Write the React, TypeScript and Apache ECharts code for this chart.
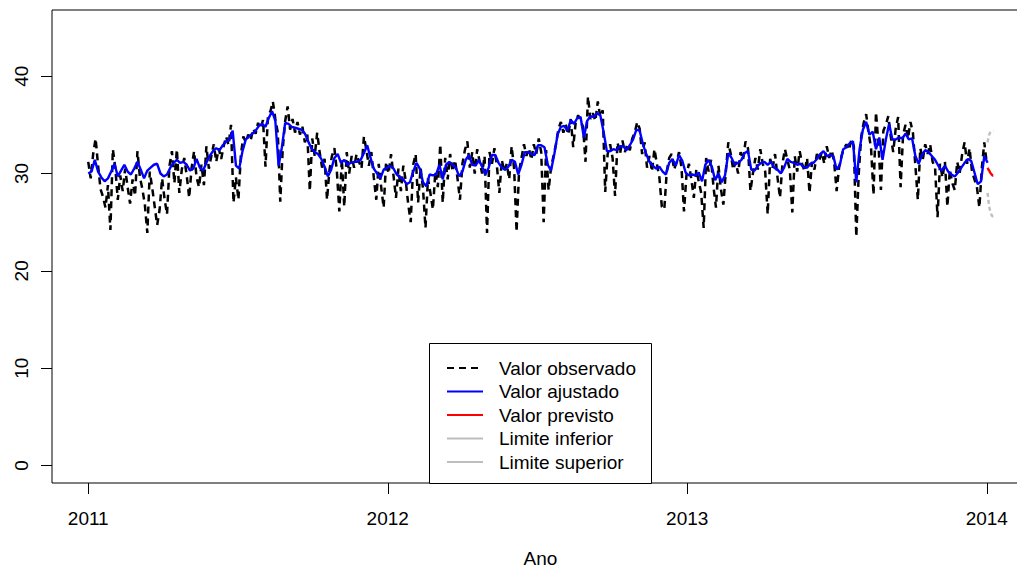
import React, { useEffect, useRef } from "react";
import * as echarts from "echarts";

const FONT = "'Liberation Sans', Arial, Helvetica, sans-serif";

const START_YEAR = 2011;
const DAYS_PER_YEAR = 365;
const OBS_STEP_DAYS = 3;
const FIT_STEP_DAYS = 4;
const FORECAST_START_DAY = 1096;

const xTicks = [2011, 2012, 2013, 2014];
const yTicks = [0, 10, 20, 30, 40];
const xAxisTitle = "Ano";

// Valor observado (every 3 days from 2011-01-01)
const observed = [
  31.2, 29.5, 32.0, 33.6, 30.8, 28.4, 27.6, 26.5, 28.8, 24.2,
  32.5, 30.6, 27.3, 29.8, 28.2, 30.5, 28.6, 26.9, 29.4, 27.7,
  32.3, 29.6, 28.4, 26.8, 23.9, 30.2, 28.5, 26.6, 24.7, 26.3,
  29.5, 27.4, 25.8, 30.8, 32.3, 29.0, 32.5, 28.0, 30.4, 31.6,
  29.8, 27.5, 30.6, 32.3, 29.6, 28.6, 30.9, 28.8, 32.8, 30.5,
  31.8, 33.0, 31.2, 32.6, 31.5, 32.8, 33.8, 32.9, 35.0, 27.0,
  29.6, 27.3, 31.9, 33.8, 33.2, 34.0, 33.4, 34.6, 34.1, 35.2,
  34.6, 35.5, 30.7, 35.9, 36.4, 37.4, 35.6, 34.2, 27.1, 32.5,
  35.4, 36.9, 34.5, 35.6, 34.2, 35.3, 34.0, 34.8, 33.2, 34.0,
  28.2, 33.6, 31.8, 34.2, 32.2, 30.6, 31.5, 27.3, 30.4, 31.8,
  32.6, 30.2, 26.1, 31.5, 26.6, 32.2, 30.0, 31.8, 30.6, 32.0,
  31.2, 30.5, 33.8, 32.4, 30.8, 32.2, 29.6, 27.3, 31.0, 28.6,
  26.5, 31.2, 30.0, 32.0, 29.8, 27.5, 30.5, 28.2, 30.8, 29.2,
  26.8, 25.0, 30.9, 32.0, 27.0, 30.6, 28.4, 24.4, 29.5, 28.0,
  26.3, 30.2, 28.6, 33.0, 27.0, 31.6, 29.4, 32.0, 30.2, 31.4,
  29.5, 27.3, 31.0, 32.4, 33.3, 30.6, 32.2, 30.0, 32.5, 31.2,
  30.0, 31.8, 23.9, 32.2, 31.0, 32.6, 30.8, 28.0, 31.4, 30.2,
  31.0, 29.4, 32.8, 30.5, 24.0, 30.2, 31.6, 33.0, 31.8, 32.6,
  31.4, 33.0, 32.0, 33.6, 32.2, 25.0, 32.4, 28.3, 30.6, 31.8,
  33.0, 34.6, 35.3, 34.2, 35.0, 34.0, 35.6, 32.7, 35.2, 36.0,
  35.4, 34.8, 31.2, 37.9, 35.6, 36.2, 35.4, 37.4, 35.8, 36.5,
  28.1, 32.0, 33.0, 31.6, 27.7, 33.2, 32.0, 33.4, 32.2, 33.0,
  32.4, 33.6, 34.2, 35.3, 34.6, 32.0, 33.2, 30.6, 31.8, 30.2,
  32.5, 31.0, 29.6, 26.6, 26.3, 30.2, 31.6, 32.0, 30.4, 31.2,
  32.2, 30.6, 26.1, 29.8, 31.0, 29.4, 27.5, 30.4, 29.2, 28.0,
  24.4, 31.6, 30.2, 31.4, 28.6, 26.5, 30.8, 28.4, 26.8, 30.2,
  33.2, 32.0, 30.4, 31.2, 30.0, 32.2, 31.4, 33.3, 32.6, 28.2,
  30.0, 31.6, 30.4, 32.5, 31.0, 30.2, 25.8, 31.5, 30.6, 32.0,
  29.6, 27.5, 31.0, 32.5, 31.4, 30.4, 26.0, 31.8, 30.2, 32.3,
  31.0, 30.2, 31.6, 28.0, 31.2, 30.4, 32.0, 31.4, 32.2, 31.0,
  32.8, 31.6, 32.4, 31.2, 28.2, 30.6, 31.8, 32.6, 33.0, 32.4,
  33.5, 32.8, 23.5, 30.0, 33.8, 35.2, 36.1, 34.2, 32.6, 27.8,
  36.3, 33.0, 28.3, 34.4, 35.0, 35.9, 33.8, 32.2, 34.6, 35.8,
  28.6, 34.0, 35.0, 33.6, 35.3, 34.2, 30.8, 27.3, 32.6, 31.4,
  33.0, 32.0, 33.0, 31.2, 30.6, 25.5, 31.0, 29.6, 31.2, 26.6,
  30.4, 29.0, 28.3, 31.2, 30.0, 32.0, 33.2, 31.0, 32.6, 30.2,
  29.4, 28.6, 26.5, 30.6, 33.2, 31.0,
];

// Valor ajustado (every 4 days from 2011-01-01)
const fitted = [
  30.0, 30.2, 31.4, 30.2, 29.6, 29.2, 29.5, 30.2, 31.0, 29.7,
  30.3, 30.9, 30.2, 29.9, 30.5, 31.2, 30.4, 29.5, 30.3, 30.6,
  30.9, 31.0, 30.0, 29.7, 29.9, 30.6, 31.1, 31.4, 31.1, 31.2,
  30.9, 30.3, 30.5, 31.5, 30.6, 30.3, 31.1, 31.8, 32.3, 32.6,
  32.4, 32.9, 33.3, 33.5, 34.4, 30.8, 30.5, 32.3, 33.5, 33.8,
  34.1, 34.4, 34.9, 35.1, 34.8, 35.7, 36.4, 35.4, 30.8, 32.7,
  35.2, 35.1, 34.8, 34.7, 34.6, 34.5, 34.1, 33.3, 32.6, 32.2,
  32.0, 31.5, 30.7, 29.7, 30.4, 31.6, 32.0, 31.1, 31.4, 30.9,
  31.1, 31.2, 31.2, 31.4, 32.1, 32.9, 31.6, 30.5, 30.0, 29.5,
  30.4, 30.6, 30.8, 30.5, 29.9, 29.6, 29.4, 28.9, 29.1, 30.2,
  31.1, 30.5, 29.1, 28.7, 29.9, 29.8, 29.9, 30.9, 29.4, 30.9,
  31.2, 30.9, 30.6, 29.7, 30.2, 31.4, 31.9, 30.9, 30.8, 31.4,
  30.7, 29.9, 30.6, 31.9, 31.9, 31.1, 30.6, 30.4, 30.7, 31.4,
  31.2, 29.9, 30.9, 32.2, 32.2, 32.0, 31.9, 32.9, 32.9, 32.7,
  30.9, 30.3, 32.0, 34.0, 34.8, 34.9, 34.4, 35.5, 35.1, 35.7,
  35.8, 33.7, 35.4, 35.9, 35.8, 36.2, 36.0, 34.3, 32.3, 32.3,
  32.5, 32.4, 32.8, 32.8, 32.4, 32.9, 33.5, 34.5, 34.4, 33.0,
  32.0, 31.2, 30.8, 30.5, 30.7, 30.2, 29.9, 31.1, 31.5, 30.8,
  31.9, 31.3, 30.1, 29.8, 29.9, 29.8, 30.1, 29.2, 30.9, 31.4,
  30.7, 29.3, 30.0, 29.1, 29.8, 32.1, 31.6, 30.9, 31.1, 31.4,
  32.1, 32.3, 30.4, 30.3, 30.8, 31.1, 31.2, 30.9, 31.2, 30.6,
  30.4, 30.0, 30.6, 31.5, 31.2, 31.1, 30.9, 31.0, 30.6, 30.6,
  31.0, 31.1, 31.5, 32.0, 32.3, 31.8, 31.9, 31.8, 30.4, 30.9,
  32.5, 32.7, 33.1, 33.3, 29.1, 32.5, 34.5, 35.3, 34.0, 34.3,
  32.5, 33.7, 31.4, 33.5, 35.1, 33.5, 33.5, 33.7, 33.6, 34.1,
  33.5, 33.6, 31.8, 31.0, 31.9, 32.4, 32.2, 31.8, 31.4, 30.8,
  30.3, 30.8, 30.2, 29.9, 29.7, 30.1, 30.6, 31.1, 31.5, 31.3,
  30.1, 28.9, 29.2, 31.8, 31.1,
];

// Valor previsto and limits (daily from 2014-01-01)
const forecast = [30.6, 30.4, 30.3, 30.1, 30.0, 29.9, 29.8, 29.8];
const lowerLimit = [28.0, 27.2, 26.6, 26.2, 25.9, 25.7, 25.6, 25.6];
const upperLimit = [33.2, 33.7, 34.0, 34.2, 34.3, 34.4, 34.4, 34.4];

const legendLabels = [
  "Valor observado",
  "Valor ajustado",
  "Valor previsto",
  "Limite inferior",
  "Limite superior",
];

const OBS_COLOR = "#000000";
const FIT_COLOR = "#0000FF";
const FC_COLOR = "#FF0000";
const LIM_COLOR = "#BEBEBE";

function toPairs(values: number[], stepDays: number, startDay = 0) {
  return values.map((v, i) => [START_YEAR + (startDay + i * stepDays) / DAYS_PER_YEAR, v]);
}

export default function App() {
  const ref = useRef<HTMLDivElement>(null);

  useEffect(() => {
    if (!ref.current) return;
    const chart = echarts.init(ref.current, null, { renderer: "svg" });

    const legendX = 429;
    const legendY = 343;
    const legendW = 222;
    const legendH = 140;
    const rowY = [368, 391.5, 415, 438.5, 462];
    const legendStyles = [
      { color: OBS_COLOR, dash: [7, 5] as any },
      { color: FIT_COLOR, dash: null },
      { color: FC_COLOR, dash: null },
      { color: LIM_COLOR, dash: null },
      { color: LIM_COLOR, dash: null },
    ];

    const legendElements: any[] = [
      {
        type: "rect",
        shape: { x: legendX + 0.5, y: legendY + 0.5, width: legendW, height: legendH },
        style: { fill: "#fff", stroke: "#000", lineWidth: 1 },
        z: 100,
      },
    ];
    legendLabels.forEach((label, i) => {
      legendElements.push({
        type: "line",
        shape: { x1: 447, y1: rowY[i], x2: 483, y2: rowY[i] },
        style: {
          stroke: legendStyles[i].color,
          lineWidth: 2,
          lineDash: legendStyles[i].dash || undefined,
        },
        z: 101,
      });
      legendElements.push({
        type: "text",
        x: 499,
        y: rowY[i],
        style: {
          text: label,
          fill: "#000",
          font: `19px ${FONT}`,
          verticalAlign: "middle",
          align: "left",
        },
        z: 101,
      });
    });

    const baseLabel = { fontSize: 19, color: "#000", fontFamily: FONT };

    chart.setOption({
      animation: false,
      backgroundColor: "#ffffff",
      grid: {
        left: 52,
        top: 10,
        right: -12,
        bottom: 88,
        show: true,
        borderColor: "#000",
        borderWidth: 1,
        backgroundColor: "transparent",
        containLabel: false,
        outerBoundsMode: "none",
      },
      xAxis: {
        type: "value",
        min: 2010.879,
        max: 2014.141,
        splitLine: { show: false },
        axisLine: { show: false, onZero: false },
        axisTick: {
          show: true,
          inside: false,
          length: 11,
          customValues: xTicks,
          lineStyle: { color: "#000", width: 1 },
        },
        axisLabel: {
          ...baseLabel,
          customValues: xTicks,
          margin: 26,
          formatter: (v: number) => String(Math.round(v)),
        },
        name: xAxisTitle,
        nameLocation: "middle",
        nameGap: 66,
        nameTextStyle: { ...baseLabel, lineHeight: 19 },
      },
      yAxis: {
        type: "value",
        min: -1.8,
        max: 46.8,
        splitLine: { show: false },
        axisLine: { show: false, onZero: false },
        axisTick: {
          show: true,
          inside: false,
          length: 11,
          customValues: yTicks,
          lineStyle: { color: "#000", width: 1 },
        },
        axisLabel: {
          ...baseLabel,
          customValues: yTicks,
          rotate: 90,
          margin: 21,
          formatter: (v: number) => String(Math.round(v)),
        },
      },
      series: [
        {
          name: legendLabels[0],
          type: "line",
          data: toPairs(observed, OBS_STEP_DAYS),
          showSymbol: false,
          symbol: "none",
          lineStyle: { color: OBS_COLOR, width: 2.5, type: [7, 5] },
          z: 2,
        },
        {
          name: legendLabels[1],
          type: "line",
          data: toPairs(fitted, FIT_STEP_DAYS),
          showSymbol: false,
          symbol: "none",
          lineStyle: { color: FIT_COLOR, width: 2.4 },
          z: 3,
        },
        {
          name: legendLabels[2],
          type: "line",
          data: toPairs(forecast, 1, FORECAST_START_DAY),
          showSymbol: false,
          symbol: "none",
          lineStyle: { color: FC_COLOR, width: 2.4 },
          z: 4,
        },
        {
          name: legendLabels[3],
          type: "line",
          data: toPairs(lowerLimit, 1, FORECAST_START_DAY),
          showSymbol: false,
          symbol: "none",
          lineStyle: { color: LIM_COLOR, width: 2.4, type: [4, 3] },
          z: 4,
        },
        {
          name: legendLabels[4],
          type: "line",
          data: toPairs(upperLimit, 1, FORECAST_START_DAY),
          showSymbol: false,
          symbol: "none",
          lineStyle: { color: LIM_COLOR, width: 2.4, type: [4, 3] },
          z: 4,
        },
      ],
      graphic: { elements: legendElements },
    });

    return () => chart.dispose();
  }, []);

  return (
    <div
      ref={ref}
      style={{ position: "absolute", left: 0, top: 0, width: 1017, height: 571, background: "#fff" }}
    />
  );
}
